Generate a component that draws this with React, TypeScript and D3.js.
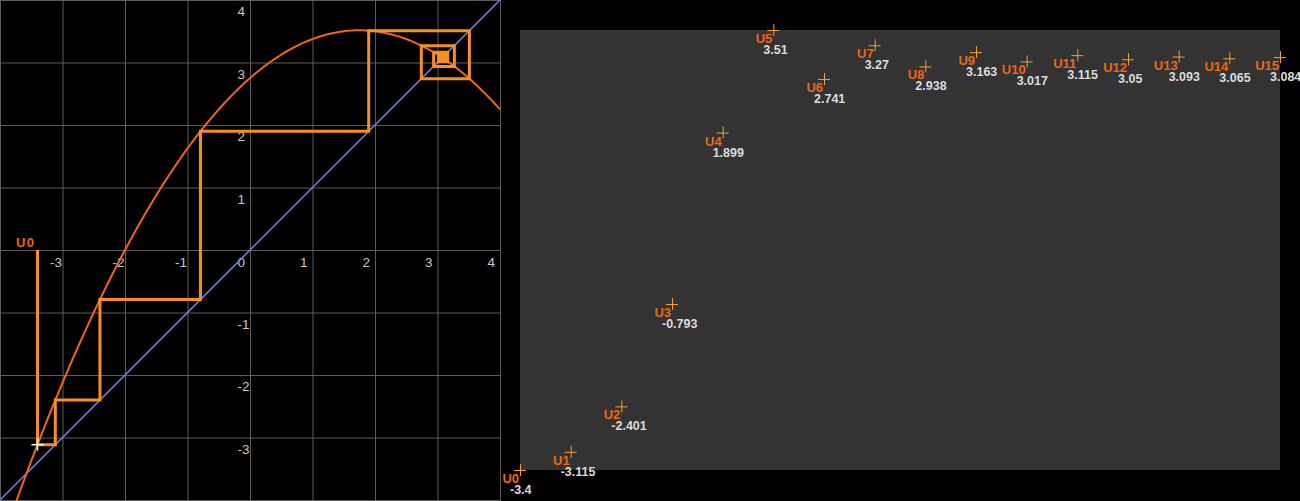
import React from 'react';
import * as d3 from 'd3';

// sequence u(n+1) = f(u(n))
const uValues = [-3.4, -3.115, -2.401, -0.793, 1.899, 3.51, 2.741, 3.27, 2.938, 3.163, 3.017, 3.115, 3.05, 3.093, 3.065, 3.084];
// f(x) = a x^2 + b x + c
const curveCoef = [-0.25, 0.875, 2.75];
const gridTicks = [-4, -3, -2, -1, 0, 1, 2, 3, 4];
const tickLabels = [-3, -2, -1, 0, 1, 2, 3, 4];

const W = 1300;
const H = 501;
const font = '"Liberation Sans", Arial, sans-serif';

const App = () => {
  // left panel: cobweb
  const x = d3.scaleLinear().domain([-4, 4]).range([0, 500]);
  const y = d3.scaleLinear().domain([-4, 4]).range([500, 0]);
  const f = (v: number) => curveCoef[0] * v * v + curveCoef[1] * v + curveCoef[2];

  const curvePts = d3.range(-4, 4.0001, 0.04).map(v => [v, f(v)] as [number, number]);
  const line = d3.line<[number, number]>().x(d => x(d[0])).y(d => y(d[1]));

  const web: [number, number][] = [[uValues[0], 0]];
  for (let i = 0; i < uValues.length - 1; i++) {
    web.push([uValues[i], uValues[i + 1]]);
    web.push([uValues[i + 1], uValues[i + 1]]);
  }

  // right panel: u(n) against n
  const nx = d3.scaleLinear().domain([0, uValues.length - 1]).range([520, 1280]);
  const ny = d3.scaleLinear().domain(d3.extent(uValues) as [number, number]).range([470, 30]);

  const px0 = x(uValues[0]);
  const py0 = y(uValues[1]);

  return (
    <div style={{ position: 'fixed', left: 0, top: 0 }}>
      <svg width={W} height={H} style={{ display: 'block', background: '#000' }}>
        <rect width={W} height={H} fill="#000" />
        <defs>
          <clipPath id="left">
            <rect x={0} y={0} width={501} height={501} />
          </clipPath>
        </defs>

        <g clipPath="url(#left)">
          {gridTicks.map(t => (
            <g key={'g' + t}>
              <line x1={x(t) + 0.5} x2={x(t) + 0.5} y1={0} y2={501} stroke="#5c5c5c" strokeWidth={1} />
              <line x1={0} x2={501} y1={y(t) + 0.5} y2={y(t) + 0.5} stroke="#5c5c5c" strokeWidth={1} />
            </g>
          ))}
          {tickLabels.map(t => (
            <text key={'tx' + t} x={x(t) - 12.5} y={y(0) + 16.5}
              fill="#c8c8c8" fontSize={13.5} fontFamily={font}>{t}</text>
          ))}
          {tickLabels.filter(t => t !== 0).map(t => (
            <text key={'ty' + t} x={x(0) - 12.5} y={y(t) + 16}
              fill="#c8c8c8" fontSize={13.5} fontFamily={font}>{t}</text>
          ))}

          <line x1={x(-4)} y1={y(-4)} x2={x(4)} y2={y(4)} stroke="#7f7fe6" strokeWidth={1.5} />
          <path d={line(curvePts) ?? ''} fill="none" stroke="#f26418" strokeWidth={2} />
          <path d={line(web) ?? ''} fill="none" stroke="#f7901e" strokeWidth={3} strokeLinejoin="miter" />

          <g stroke="#fff" strokeWidth={1.5}>
            <line x1={px0 - 6} x2={px0 + 6} y1={py0} y2={py0} />
            <line x1={px0} x2={px0} y1={py0 - 6} y2={py0 + 6} />
          </g>
          <text x={px0 - 2} y={y(0) - 3} textAnchor="end" fill="#f06414" letterSpacing={1.5}
            fontSize={13} fontWeight="bold" fontFamily={font}>U0</text>
        </g>

        <rect x={nx(0)} y={ny.range()[1]} width={nx(uValues.length - 1) - nx(0)}
          height={ny.range()[0] - ny.range()[1]} fill="#333" />

        {uValues.map((v, i) => {
          const cx = nx(i);
          const cy = ny(v);
          return (
            <g key={'u' + i}>
              <line x1={cx - 6} x2={cx + 6} y1={cy + 0.5} y2={cy + 0.5} stroke="#f5a02a" strokeWidth={1} />
              <line x1={cx + 0.5} x2={cx + 0.5} y1={cy - 6} y2={cy + 6} stroke="#f5a02a" strokeWidth={1} />
              <text x={cx - 1} y={cy + 13} textAnchor="end" fill="#ee6613"
                fontSize={13} fontWeight="bold" fontFamily={font}>{'U' + i}</text>
              <text x={cx - 10} y={cy + 24} fill="#dcdcdc"
                fontSize={12.5} fontWeight="bold" fontFamily={font}>{String(v)}</text>
            </g>
          );
        })}
      </svg>
    </div>
  );
};

export default App;
